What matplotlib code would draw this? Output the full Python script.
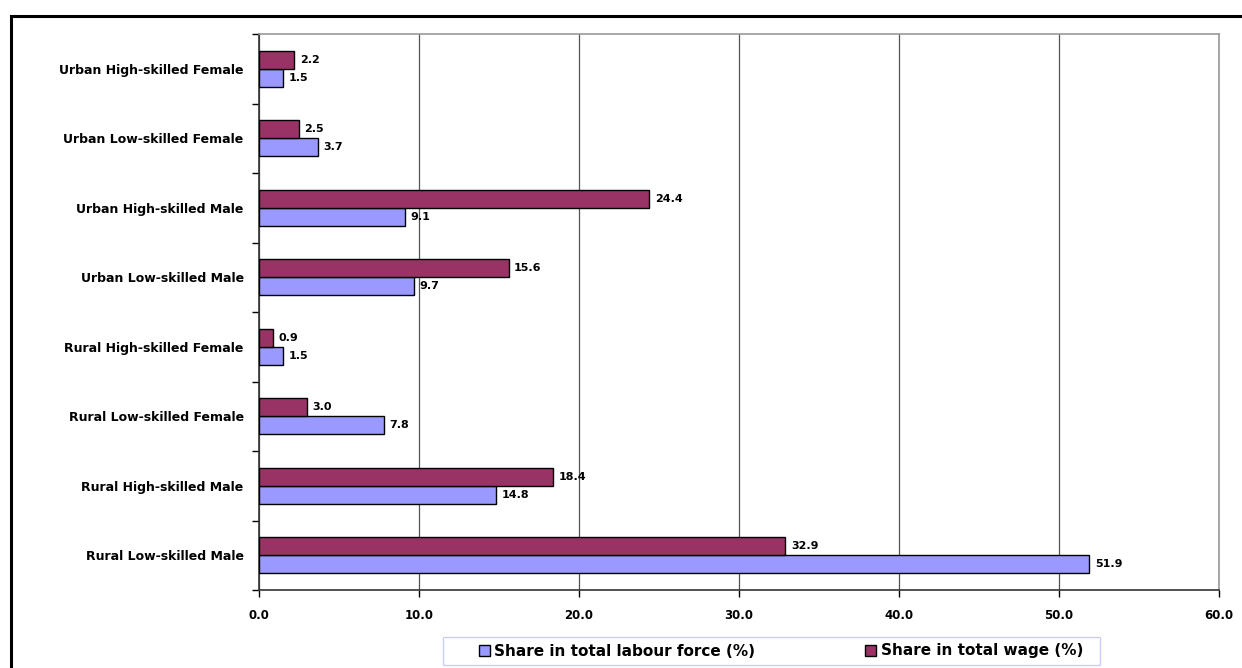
import matplotlib
matplotlib.use("Agg")
import matplotlib.pyplot as plt
from matplotlib.patches import Rectangle
import numpy as np

plt.rcParams['font.family'] = ['DejaVu Sans']
plt.rcParams['font.weight'] = 'bold'

# categories bottom -> top
groups = ["Rural Low-skilled Male", "Rural High-skilled Male",
          "Rural Low-skilled Female", "Rural High-skilled Female",
          "Urban Low-skilled Male", "Urban High-skilled Male",
          "Urban Low-skilled Female", "Urban High-skilled Female"]
labour = [51.9, 14.8, 7.8, 1.5, 9.7, 9.1, 3.7, 1.5]
wage = [32.9, 18.4, 3.0, 0.9, 15.6, 24.4, 2.5, 2.2]
xticks = [0, 10, 20, 30, 40, 50, 60]

W, H = 1242, 668
fig = plt.figure(figsize=(W / 100, H / 100), dpi=100)
# plot area in pixels: x 259-1219, y 34-590
ax = fig.add_axes([259 / W, 1 - 590 / H, (1219 - 259) / W, (590 - 34) / H])

y = np.arange(len(groups))
bh = 0.26
ax.barh(y - bh / 2, labour, height=bh, color='#9999ff', edgecolor='black',
        linewidth=1, label='Share in total labour force (%)', zorder=3)
ax.barh(y + bh / 2, wage, height=bh, color='#993366', edgecolor='black',
        linewidth=1, label='Share in total wage (%)', zorder=3)

for i in range(len(groups)):
    ax.annotate(f"{labour[i]:.1f}", (labour[i], y[i] - bh / 2), xytext=(4, 0),
                textcoords='offset points', va='center', ha='left',
                fontsize=8, fontweight='bold')
    ax.annotate(f"{wage[i]:.1f}", (wage[i], y[i] + bh / 2), xytext=(4, 0),
                textcoords='offset points', va='center', ha='left',
                fontsize=8, fontweight='bold')

ax.set_xlim(0, 60)
ax.set_ylim(-0.5, len(groups) - 0.5)
ax.set_xticks(xticks)
ax.set_xticklabels([f"{v:.1f}" for v in xticks], fontsize=8.5, fontweight='bold')
ax.tick_params(axis='x', length=5, width=1, direction='out', pad=9)

# category labels centred, ticks at boundaries
ax.set_yticks(y)
ax.set_yticklabels(groups, fontsize=9, fontweight='bold')
ax.tick_params(axis='y', which='major', length=0, pad=11)
ax.set_yticks(np.arange(-0.5, len(groups)), minor=True)
ax.tick_params(axis='y', which='minor', length=5, width=1, direction='out')

ax.grid(axis='x', color='#555555', linewidth=0.9, zorder=0)
for s in ['top', 'right']:
    ax.spines[s].set_color('#999999')
    ax.spines[s].set_linewidth(1.2)
for s in ['left', 'bottom']:
    ax.spines[s].set_color('#333333')
    ax.spines[s].set_linewidth(1.2)

# legend: box drawn separately, Excel style padding
fig.patches.append(Rectangle((443 / W, 1 - 665 / H), (1100 - 443) / W, 28 / H,
                             transform=fig.transFigure, facecolor='white',
                             edgecolor='#ccccff', linewidth=1))
handles, labels = ax.get_legend_handles_labels()
leg = fig.legend(handles, labels, loc='center',
                 bbox_to_anchor=((479 + 1083) / 2 / W, 1 - 651 / H),
                 ncol=2, frameon=False,
                 handlelength=0.7, handleheight=0.7, handletextpad=0.3,
                 columnspacing=7.2, borderpad=0.3,
                 prop={'weight': 'bold', 'size': 11})

# outer chart frame
fig.patches.append(Rectangle((11 / W, -0.05), 1.1, 1 - 16 / H + 0.05,
                             transform=fig.transFigure, fill=False,
                             edgecolor='black', linewidth=2.2))

fig.savefig("out.png", dpi=100)
